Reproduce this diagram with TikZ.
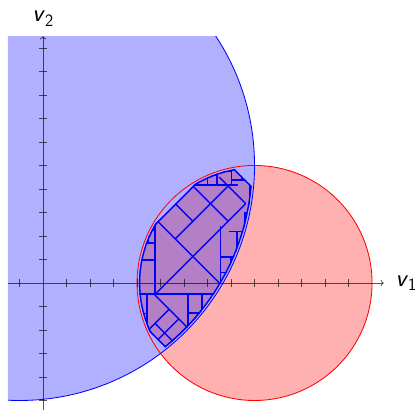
\documentclass[tikz,border=0pt]{standalone}
\usepackage{xcolor}
\usetikzlibrary{arrows.meta}
\definecolor{Lavender}{HTML}{B0B0FF}
\definecolor{Rose}{HTML}{FFB0B0}
\definecolor{Plum}{HTML}{B380C8}

\begin{document}
\begin{tikzpicture}[
    cell/.style={draw=blue,line width=1.7pt,line join=round},
    edge/.style={draw=blue,line width=3.4pt},
    tilted/.style={x={(0.5cm,0.5cm)},y={(0.5cm,-0.5cm)}},
    axis/.style={draw=black,draw opacity=0.65,line width=1pt},
    tick/.style={draw=black,draw opacity=0.65,line width=0.8pt},
    every node/.style={font=\fontsize{30}{36}\selectfont\sffamily}]
  \useasboundingbox (-1.83,-5.4) rectangle (15.87,12.04);
  % the two disks
  \begin{scope}
    \clip (-1.5,-5.5) rectangle (14.5,10.5);
    \fill[Rose] (9,0) circle (5);
    \fill[Lavender] (-1,5) circle (10);
    \draw[red,line width=1pt] (9,0) circle (5);
    \draw[blue,line width=1pt] (-1,5) circle (10);
  \end{scope}
  % paving of the intersection
  \begin{scope}
    \clip (9,0) circle (4.92);
    \clip (-1,5) circle (9.92);
    \clip[tilted] (2.45,2.25) -- (13,2.25) -- (13,8.05) -- (2.45,8.05) -- cycle;
    \fill[Plum] (-2,-6) rectangle (15,11);
    \draw[edge] (9,0) circle (4.92);
    \draw[edge] (-1,5) circle (9.92);
    \draw[edge,tilted] (2.45,2.25) -- (13,2.25) -- (13,8.05) -- (2.45,8.05) -- cycle;
    % boxes
    \draw[cell] (4.77,-0.47) -- (4.77,2.68);
    \draw[cell] (3.9,0.98) -- (4.77,0.98);
    \draw[cell] (4.2,1.7) -- (4.77,1.7);
    \draw[cell] (4.3,2.25) -- (4.77,2.25);
    \draw[cell] (4.5,1.7) -- (4.5,2.5);
    \draw[cell] (3.9,-0.47) -- (7.55,-0.47);
    \draw[cell] (4.43,-1.95) -- (4.43,-0.47);
    \draw[cell] (3.9,-1.3) -- (4.43,-1.3);
    \draw[cell] (6.17,-1.95) -- (6.17,-0.47);
    \draw[cell] (6.77,-1.28) -- (6.77,-0.47);
    \draw[cell] (6.17,-1.28) -- (6.77,-1.28);
    \draw[cell] (7.55,-0.47) -- (7.55,2.42);
    \draw[cell] (7.55,1.1) -- (8.3,1.1);
    \draw[cell] (7.55,0.45) -- (8.05,0.45);
    \draw[cell] (8,0.45) -- (8,1.1);
    \draw[cell] (7.85,-0.47) -- (7.85,0.45);
    \draw[cell] (8.25,1.1) -- (8.25,2.2);
    \draw[cell] (7.9,2.2) -- (8.7,2.2);
    \draw[cell] (8.6,2.2) -- (8.6,3);
    \draw[cell] (8.6,3) -- (9,3);
    \draw[cell] (8.8,3) -- (8.8,5);
    \draw[cell] (6.3,4.17) -- (8.3,4.17);
    \draw[cell] (8.03,4.38) -- (8.8,4.38);
    \draw[cell] (7,4.17) -- (7,4.7);
    \draw[cell] (7.4,4.17) -- (7.4,4.8);
    \draw[cell] (8.03,4.17) -- (8.03,5);
    \draw[cell] (8.45,4.38) -- (8.45,5);
    \draw[cell] (7,4.6) -- (7.4,4.6);
    \draw[cell] (7.4,4.74) -- (8.03,4.74);
    % rotated boxes, (u+v,u-v)
    \begin{scope}[tilted]
      \draw[cell] (7.5,3.75) -- (12,3.75);
      \draw[cell] (4.25,5.25) -- (12,5.25);
      \draw[cell] (7.5,2.25) -- (7.5,7.6);
      \draw[cell] (9,2.25) -- (9,3.75);
      \draw[cell] (10.5,2.25) -- (10.5,5.25);
      \draw[cell] (12,3) -- (12,5.25);
      \draw[cell] (4.25,5.25) -- (4.25,8.05);
      \draw[cell] (3.05,6.48) -- (3.05,8.05);
      \draw[cell] (2.45,6.48) -- (4.25,6.48);
      \draw[cell] (2.45,7.3) -- (4.25,7.3);
    \end{scope}
  \end{scope}
  % axes
  \draw[axis,->] (-1.5,0) -- (14.5,0);
  \draw[axis,->] (0,-5.5) -- (0,10.5);
  \foreach \i in {-1,1,2,...,13}
    \draw[tick] (\i,-0.17) -- (\i,0.17);
  \foreach \j in {-5,...,-1,1,2,...,10}
    \draw[tick] (-0.17,\j) -- (0.17,\j);
  \node (v1) at (15.45,0) {\textit{v}\textsubscript{1}};
  \node (v2) at (0,11.25) {\textit{v}\textsubscript{2}};
\end{tikzpicture}
\end{document}
